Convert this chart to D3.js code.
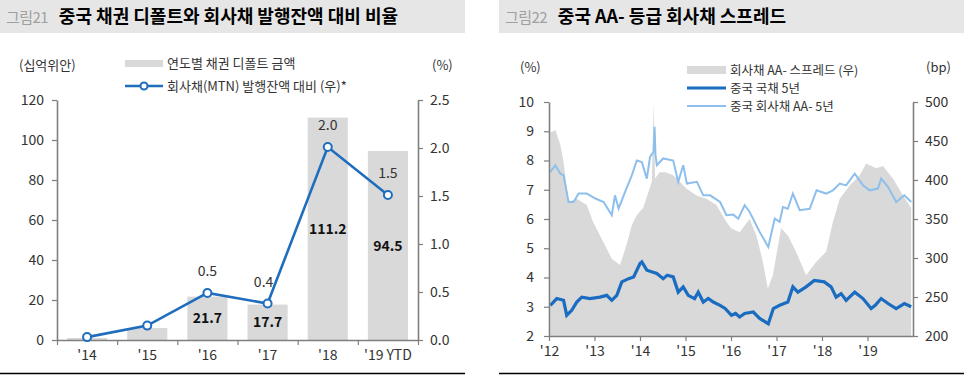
<!DOCTYPE html>
<html><head><meta charset="utf-8">
<script src="https://cdn.jsdelivr.net/npm/d3@7"></script>
<style>
body{margin:0;background:#fff;}
text{font-family:"Noto Sans CJK KR","Noto Sans",sans-serif;}
</style></head>
<body><svg id="c" width="974" height="377"></svg>
<script>
// ---------- Left chart data ----------
const leftCategories = ["'14","'15","'16","'17","'18","'19 YTD"];
const defaultAmount = [1.0, 6.0, 21.7, 17.7, 111.2, 94.5];          // 십억위안
const defaultRatio  = [0.03, 0.15, 0.49, 0.38, 2.01, 1.51];         // %
const ratioLabels   = [null, null, "0.5", "0.4", "2.0", "1.5"];
const amountLabels  = [null, null, "21.7", "17.7", "111.2", "94.5"];
const leftYTicks = [0,20,40,60,80,100,120];
const rightYTicks = [0,0.5,1.0,1.5,2.0,2.5];

// ---------- Right chart data (decimal year) ----------
const corpDates = [2012.03,2012.14,2012.25,2012.32,2012.43,2012.54,2012.65,2012.83,2013.02,2013.2,2013.38,2013.45,2013.53,2013.67,2013.82,2013.93,2014.04,2014.15,2014.22,2014.3,2014.32,2014.34,2014.37,2014.51,2014.73,2014.84,2014.95,2015.03,2015.25,2015.39,2015.54,2015.76,2015.9,2016.05,2016.16,2016.3,2016.41,2016.63,2016.82,2016.96,2017.07,2017.14,2017.25,2017.36,2017.51,2017.73,2017.88,2018.09,2018.24,2018.39,2018.53,2018.72,2018.9,2019.05,2019.23,2019.3,2019.45,2019.63,2019.81,2019.96];
const corpAA5y = [7.61,7.84,7.55,7.49,6.58,6.58,6.87,6.87,6.70,6.58,6.13,6.81,6.36,6.92,7.49,8.00,7.95,7.38,8.12,8.3,9.15,8.2,7.84,8.07,8.00,7.27,7.84,7.21,7.27,6.81,6.81,6.58,6.13,6.15,6.01,6.47,6.24,5.56,5.04,6.01,5.90,6.41,6.35,6.87,6.30,6.35,6.98,6.87,6.98,7.21,7.15,7.55,7.15,6.98,7.04,7.38,7.10,6.58,6.81,6.58];

const govDates = [2012.03,2012.17,2012.32,2012.39,2012.5,2012.61,2012.72,2012.9,2013.12,2013.27,2013.38,2013.49,2013.6,2013.75,2013.86,2014.0,2014.04,2014.15,2014.37,2014.51,2014.6,2014.73,2014.84,2014.95,2015.06,2015.2,2015.28,2015.39,2015.5,2015.61,2015.76,2015.87,2016.01,2016.1,2016.19,2016.3,2016.49,2016.63,2016.82,2016.93,2017.07,2017.25,2017.36,2017.47,2017.65,2017.83,2018.05,2018.2,2018.31,2018.42,2018.53,2018.72,2018.9,2019.08,2019.17,2019.3,2019.45,2019.63,2019.81,2019.96];
const gov5y = [3.05,3.28,3.22,2.71,2.88,3.16,3.33,3.28,3.33,3.39,3.22,3.39,3.85,3.96,4.02,4.48,4.53,4.25,4.14,3.96,4.08,4.02,3.50,3.68,3.39,3.28,3.50,3.16,3.28,3.16,3.05,2.94,2.71,2.77,2.65,2.77,2.82,2.60,2.42,2.94,3.05,3.16,3.68,3.50,3.68,3.90,3.85,3.68,3.33,3.45,3.22,3.50,3.28,2.94,3.05,3.28,3.11,2.94,3.11,3.00];

const spreadDates = [2012.03,2012.14,2012.25,2012.32,2012.43,2012.61,2012.83,2012.97,2013.12,2013.27,2013.38,2013.56,2013.7,2013.82,2013.93,2014.07,2014.26,2014.3,2014.33,2014.43,2014.56,2014.73,2014.87,2015.02,2015.24,2015.46,2015.68,2015.9,2016.0,2016.19,2016.41,2016.56,2016.7,2016.81,2016.92,2017.1,2017.25,2017.43,2017.65,2017.87,2018.09,2018.24,2018.39,2018.61,2018.83,2018.97,2019.19,2019.34,2019.56,2019.78,2019.96];
const spreadBp = [461,464,445,423,372,376,368,346,329,312,299,291,316,342,355,364,398,500,402,410,410,406,398,389,380,376,368,346,338,333,350,329,295,261,278,338,329,308,278,295,308,346,376,393,406,421,415,418,402,380,364];

const rightXTicks = [2012,2013,2014,2015,2016,2017,2018,2019];
const rightXLabels = ["'12","'13","'14","'15","'16","'17","'18","'19"];
const rightLeftTicks = [2,3,4,5,6,7,8,9,10];
const rightRightTicks = [200,250,300,350,400,450,500];

const svg = d3.select("#c");
const AX = "#7f7f7f", BLUE = "#1f6dbd", GREY = "#d9d9d9", TXT = "#333";

// ---------- Title bars ----------
svg.append("rect").attr("x",0).attr("y",0).attr("width",465).attr("height",33).attr("fill","#e6e6e6");
svg.append("rect").attr("x",499).attr("y",0).attr("width",465).attr("height",33).attr("fill","#e6e6e6");
function title(x, num, t){
  const tx = svg.append("text").attr("x",x).attr("y",23);
  tx.append("tspan").attr("fill","#a0a0a0").attr("font-size",15).attr("letter-spacing",-0.6).text(num);
  tx.append("tspan").attr("dx",11).attr("fill","#000").attr("font-size",18).attr("font-weight","bold").text(t);
}
title(6,"그림21","중국 채권 디폴트와 회사채 발행잔액 대비 비율");
title(505,"그림22","중국 AA- 등급 회사채 스프레드");
svg.append("line").attr("x1",0).attr("x2",465).attr("y1",373.5).attr("y2",373.5).attr("stroke","#000").attr("stroke-width",1.5);
svg.append("line").attr("x1",499).attr("x2",964).attr("y1",373.5).attr("y2",373.5).attr("stroke","#000").attr("stroke-width",1.5);

// ---------- Left chart ----------
const L = {x0:57, x1:418, yTop:100, yBot:340};
const xb = d3.scaleBand().domain(leftCategories).range([L.x0,L.x1]).paddingInner(1/3).paddingOuter(1/6);
const yl = d3.scaleLinear().domain([0,120]).range([L.yBot,L.yTop]);
const yr = d3.scaleLinear().domain([0,2.5]).range([L.yBot,L.yTop]);
const gL = svg.append("g");

gL.selectAll("rect.bar").data(defaultAmount).enter().append("rect")
  .attr("x",(d,i)=>xb(leftCategories[i])).attr("width",xb.bandwidth())
  .attr("y",d=>yl(d)).attr("height",d=>yl(0)-yl(d)).attr("fill",GREY);

function styleAxis(g){
  g.selectAll("path.domain").attr("stroke",AX).attr("stroke-width",1.6);
  g.selectAll(".tick line").attr("stroke",AX).attr("stroke-width",1.2);
  g.selectAll(".tick text").attr("fill",TXT).attr("font-size",14)
    .attr("font-family",'"Noto Sans CJK KR","Noto Sans",sans-serif');
}
const axL = gL.append("g").attr("transform",`translate(${L.x0},0)`)
  .call(d3.axisLeft(yl).tickValues(leftYTicks).tickSize(5).tickSizeOuter(0).tickPadding(8));
styleAxis(axL);
const axR = gL.append("g").attr("transform",`translate(${L.x1},0)`)
  .call(d3.axisRight(yr).tickValues(rightYTicks).tickFormat(d3.format(".1f")).tickSize(5).tickSizeOuter(0).tickPadding(7));
styleAxis(axR);
const xEdge = d3.scaleLinear().domain([0,leftCategories.length]).range([L.x0,L.x1]);
const axB = gL.append("g").attr("transform",`translate(0,${L.yBot})`)
  .call(d3.axisBottom(xEdge).tickValues(d3.range(0,leftCategories.length+1)).tickFormat("").tickSize(5).tickSizeOuter(0));
styleAxis(axB);
gL.selectAll("text.xl").data(leftCategories).enter().append("text")
  .attr("x",d=>xb(d)+xb.bandwidth()/2).attr("y",360).attr("text-anchor","middle")
  .attr("font-size",14).attr("fill",TXT).text(d=>d);

const lineL = d3.line().x((d,i)=>xb(leftCategories[i])+xb.bandwidth()/2).y(d=>yr(d));
gL.append("path").datum(defaultRatio).attr("d",lineL).attr("fill","none").attr("stroke",BLUE).attr("stroke-width",2.6);
gL.selectAll("circle.pt").data(defaultRatio).enter().append("circle")
  .attr("cx",(d,i)=>xb(leftCategories[i])+xb.bandwidth()/2).attr("cy",d=>yr(d)).attr("r",4)
  .attr("fill","#fff").attr("stroke",BLUE).attr("stroke-width",2);
gL.selectAll("text.rl").data(defaultRatio).enter().append("text")
  .attr("x",(d,i)=>xb(leftCategories[i])+xb.bandwidth()/2 + (i===3?-4:0)).attr("y",d=>yr(d)-17)
  .attr("text-anchor","middle").attr("font-size",14).attr("fill",TXT).text((d,i)=>ratioLabels[i]||"");
gL.selectAll("text.al").data(defaultAmount).enter().append("text")
  .attr("x",(d,i)=>xb(leftCategories[i])+xb.bandwidth()/2).attr("y",d=>(yl(d)+yl(0))/2+5)
  .attr("text-anchor","middle").attr("font-size",14).attr("font-weight","bold").attr("fill","#111").text((d,i)=>amountLabels[i]||"");

gL.append("text").attr("x",19).attr("y",70).attr("font-size",13).attr("fill",TXT).text("(십억위안)");
gL.append("text").attr("x",432).attr("y",70).attr("font-size",13).attr("fill",TXT).text("(%)");
gL.append("rect").attr("x",125).attr("y",60).attr("width",38).attr("height",7).attr("fill",GREY);
gL.append("text").attr("x",167).attr("y",68).attr("font-size",13).attr("fill",TXT).text("연도별 채권 디폴트 금액");
gL.append("line").attr("x1",125).attr("x2",163).attr("y1",86).attr("y2",86).attr("stroke",BLUE).attr("stroke-width",2.6);
gL.append("circle").attr("cx",144).attr("cy",86).attr("r",3.5).attr("fill","#fff").attr("stroke",BLUE).attr("stroke-width",2);
gL.append("text").attr("x",167).attr("y",91).attr("font-size",13).attr("fill",TXT).text("회사채(MTN) 발행잔액 대비 (우)*");

// ---------- Right chart ----------
const R = {x0:549, x1:913, yTop:102, yBot:336};
const xr = d3.scaleLinear().domain([2012,2020]).range([R.x0,R.x1]);
const yL2 = d3.scaleLinear().domain([2,10]).range([R.yBot,R.yTop]);
const yR2 = d3.scaleLinear().domain([200,500]).range([R.yBot,R.yTop]);
const gR = svg.append("g");

const area = d3.area().x((d,i)=>xr(spreadDates[i])).y0(yR2(200)).y1(d=>yR2(d)).curve(d3.curveLinear);
gR.append("path").datum(spreadBp).attr("d",area).attr("fill",GREY);

const lineCorp = d3.line().x((d,i)=>xr(corpDates[i])).y(d=>yL2(d));
gR.append("path").datum(corpAA5y).attr("d",lineCorp).attr("fill","none").attr("stroke","#8dbfec").attr("stroke-width",2);
const lineGov = d3.line().x((d,i)=>xr(govDates[i])).y(d=>yL2(d));
gR.append("path").datum(gov5y).attr("d",lineGov).attr("fill","none").attr("stroke","#1a6cc0").attr("stroke-width",3.2);

const rAxL = gR.append("g").attr("transform",`translate(${R.x0},0)`)
  .call(d3.axisLeft(yL2).tickValues(rightLeftTicks).tickSize(5).tickSizeOuter(0).tickPadding(10));
styleAxis(rAxL);
const rAxR = gR.append("g").attr("transform",`translate(${R.x1},0)`)
  .call(d3.axisRight(yR2).tickValues(rightRightTicks).tickSize(5).tickSizeOuter(0).tickPadding(7));
styleAxis(rAxR);
const rAxB = gR.append("g").attr("transform",`translate(0,${R.yBot})`)
  .call(d3.axisBottom(xr).tickValues(rightXTicks).tickFormat((d,i)=>rightXLabels[i]).tickSize(5).tickSizeOuter(0).tickPadding(5));
styleAxis(rAxB);

gR.append("text").attr("x",520).attr("y",72).attr("font-size",13).attr("fill",TXT).text("(%)");
gR.append("text").attr("x",926).attr("y",72).attr("font-size",13).attr("fill",TXT).text("(bp)");
gR.append("rect").attr("x",687).attr("y",66).attr("width",39).attr("height",8).attr("fill",GREY);
gR.append("text").attr("x",730).attr("y",74.5).attr("font-size",12.5).attr("fill",TXT).text("회사채 AA- 스프레드 (우)");
gR.append("line").attr("x1",687).attr("x2",726).attr("y1",88).attr("y2",88).attr("stroke","#1a6cc0").attr("stroke-width",3);
gR.append("text").attr("x",730).attr("y",92.5).attr("font-size",12.5).attr("fill",TXT).text("중국 국채 5년");
gR.append("line").attr("x1",687).attr("x2",726).attr("y1",106).attr("y2",106).attr("stroke","#8dbfec").attr("stroke-width",2);
gR.append("text").attr("x",730).attr("y",110.5).attr("font-size",12.5).attr("fill",TXT).text("중국 회사채 AA- 5년");
</script></body></html>
